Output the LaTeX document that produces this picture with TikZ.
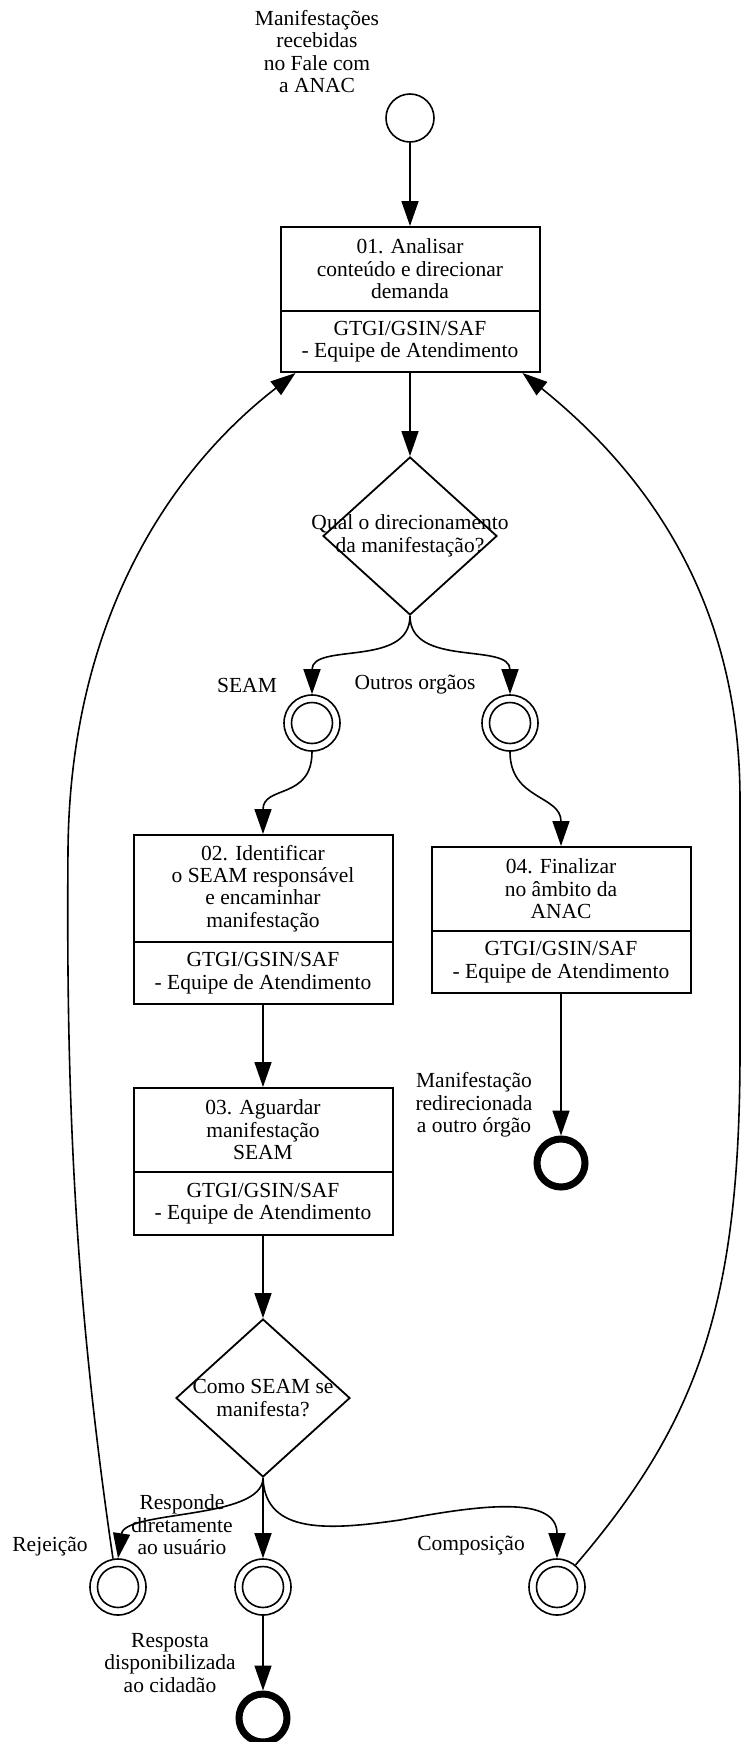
\documentclass[tikz,border=0pt]{standalone}
\usepackage{fontspec}
\setmainfont{Liberation Serif}
\usetikzlibrary{arrows.meta,calc,shapes.geometric}

\begin{document}
\begin{tikzpicture}[x=1pt, y=-1pt,
    every node/.style={font=\fontsize{21.5}{22.4}\selectfont},
    task/.style={draw, line width=2pt, minimum width=259pt, inner sep=0pt, align=center},
    gate/.style={diamond, draw, line width=1.8pt, minimum width=174pt, minimum height=158pt, inner sep=0pt},
    startev/.style={circle, draw, line width=1.6pt, minimum size=48pt, inner sep=0pt},
    midev/.style={circle, draw, line width=1.6pt, minimum size=56pt, inner sep=0pt,
      path picture={\draw[line width=1.6pt] (path picture bounding box.center) circle (20.5pt);}},
    endev/.style={circle, draw, line width=7pt, minimum size=48pt, inner sep=0pt},
    flow/.style={-{Triangle[length=25pt, width=17pt]}, line width=1.6pt},
    lbl/.style={align=center}]
  \useasboundingbox (0,0) rectangle (742,1742);
  % start event
  \node[startev] (start) at (410,118) {};
  \node[lbl] (startlbl) at (317,51.5) {Manifestações\\recebidas\\no Fale com\\a ANAC};
  % tasks
  \node[task, minimum height=84pt] (t1) at (410,269) {01. Analisar\\conteúdo e direcionar\\demanda};
  \node[task, minimum height=61pt] (r1) at (410,341.5) {GTGI/GSIN/SAF\\- Equipe de Atendimento};
  \node[task, minimum height=107pt] (t2) at (263,888.5) {02. Identificar\\o SEAM responsável\\e encaminhar\\manifestação};
  \node[task, minimum height=62pt] (r2) at (263,973) {GTGI/GSIN/SAF\\- Equipe de Atendimento};
  \node[task, minimum height=84pt] (t3) at (263,1130) {03. Aguardar\\manifestação\\SEAM};
  \node[task, minimum height=63pt] (r3) at (263,1203.5) {GTGI/GSIN/SAF\\- Equipe de Atendimento};
  \node[task, minimum height=84pt] (t4) at (561,889) {04. Finalizar\\no âmbito da\\ANAC};
  \node[task, minimum height=62pt] (r4) at (561,962) {GTGI/GSIN/SAF\\- Equipe de Atendimento};
  % gateways
  \node[gate] (q1) at (410,536) {};
  \node[lbl] (q1txt) at (q1.center) {Qual o direcionamento\\da manifestação?};
  \node[gate] (q2) at (263,1398) {};
  \node[lbl] (q2txt) at (q2.center) {Como SEAM se\\manifesta?};
  % intermediate and end events
  \node[midev] (seam) at (312,723) {};
  \node[midev] (outros) at (510,723) {};
  \node (seamlbl) at (247,685) {SEAM};
  \node (outroslbl) at (415,685) {Outros orgãos};
  \node[endev] (end1) at (561,1163) {};
  \node[lbl] (end1lbl) at (474,1105) {Manifestação\\redirecionada\\a outro órgão};
  \node[midev] (rej) at (118,1587) {};
  \node[midev] (resp) at (263,1587) {};
  \node[midev] (comp) at (557,1587) {};
  \node (rejlbl) at (50,1547) {Rejeição};
  \node[lbl] (resplbl) at (182,1525) {Responde\\diretamente\\ao usuário};
  \node (complbl) at (471,1546) {Composição};
  \node[endev] (end2) at (263,1718) {};
  \node[lbl] (end2lbl) at (170,1663) {Resposta\\disponibilizada\\ao cidadão};
  % flows
  \draw[flow] (start) -- (t1);
  \draw[flow] (r1) -- (q1);
  \draw[flow] (q1.south) .. controls (410,668) and (312,642) .. (seam.north);
  \draw[flow] (q1.south) .. controls (410,668) and (510,642) .. (outros.north);
  \draw[flow] (seam.south) .. controls (312,800) and (263,785) .. (t2.north);
  \draw[flow] (outros.south) .. controls (510,800) and (561,795) .. (t4.north);
  \draw[flow] (r4) -- (end1);
  \draw[flow] (r2) -- (t3);
  \draw[flow] (r3) -- (q2);
  \draw[flow] (q2.south) .. controls (263,1520) and (125,1510) .. (rej.north);
  \draw[flow] (q2.south) -- (resp.north);
  \draw[flow] (q2.south) .. controls (265,1535) and (330,1530) .. (400,1520)
    .. controls (480,1505) and (557,1495) .. (comp.north);
  \draw[flow] (resp) -- (end2);
  % loops back to task 01
  \draw[flow] (rej.100) .. controls (75,1300) and (66,1100) .. (68,850)
    .. controls (70,620) and (170,470) .. ($(r1.south west)+(16,0)$);
  \draw[flow] (comp.50) .. controls (700,1420) and (740,1300) .. (740,1050) -- (740,800)
    .. controls (740,640) and (680,500) .. ($(r1.south east)+(-18,0)$);
\end{tikzpicture}
\end{document}
